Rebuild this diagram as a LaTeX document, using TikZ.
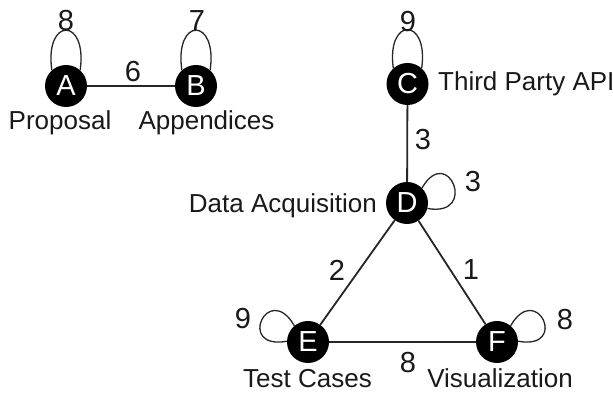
\documentclass[tikz,border=0pt]{standalone}
\usepackage{fontspec}
\setmainfont{Liberation Sans}
\begin{document}
\begin{tikzpicture}[x=1pt,y=1pt,
  vtx/.style={circle,fill=black,text=white,minimum size=42pt,inner sep=0pt,font=\fontsize{29}{32}\selectfont},
  lbl/.style={inner sep=0pt,font=\fontsize{26}{30}\selectfont,text=black!90},
  num/.style={inner sep=0pt,font=\fontsize{29}{32}\selectfont,text=black!90},
  edge/.style={line width=1.8pt,draw=black!85},
  loopline/.style={line width=1.3pt,draw=black!85}]
\useasboundingbox[fill=white] (0,0) rectangle (613,411);
% vertices
\node[vtx] (A) at (66,325) {A};
\node[vtx] (B) at (196,325) {B};
\node[vtx] (C) at (407.5,327) {C};
\node[vtx] (D) at (407,208) {D};
\node[vtx] (E) at (308,69) {E};
\node[vtx] (F) at (497,69) {F};
% edges
\draw[edge] (A) -- (B);
\draw[edge] (C) -- (D);
\draw[edge] (D) -- (E);
\draw[edge] (D) -- (F);
\draw[edge] (E) -- (F);
% loops
\draw[loopline] (A.132) to[out=98,in=82,distance=54pt] (A.48);
\draw[loopline] (B.132) to[out=98,in=82,distance=54pt] (B.48);
\draw[loopline] (C.132) to[out=98,in=82,distance=52pt] (C.48);
\draw[loopline] (D.45) to[out=60,in=-10,distance=52pt] (D.-15);
\draw[loopline] (E.130) to[out=120,in=190,distance=52pt] (E.178);
\draw[loopline] (F.50) to[out=60,in=-10,distance=52pt] (F.2);
% vertex labels
\node[lbl,anchor=base] (lA) at (60,281) {Proposal};
\node[lbl,anchor=base] (lB) at (206.5,281) {Appendices};
\node[lbl,anchor=base west] (lC) at (438,320) {Third Party API};
\node[lbl,anchor=base east] (lD) at (377,198) {Data Acquisition};
\node[lbl,anchor=base] (lE) at (307.5,23) {Test Cases};
\node[lbl,anchor=base] (lF) at (500,23) {Visualization};
% weights
\node[num] (wAA) at (66,390) {8};
\node[num] (wBB) at (197,390) {7};
\node[num] (wCC) at (408,389) {9};
\node[num] (wAB) at (133,339) {6};
\node[num] (wCD) at (423,271) {3};
\node[num] (wDD) at (473,229) {3};
\node[num] (wDE) at (337,141) {2};
\node[num] (wDF) at (471,141) {1};
\node[num] (wEE) at (243,92) {9};
\node[num] (wFF) at (565,91) {8};
\node[num] (wEF) at (408,48) {8};
\end{tikzpicture}
\end{document}
